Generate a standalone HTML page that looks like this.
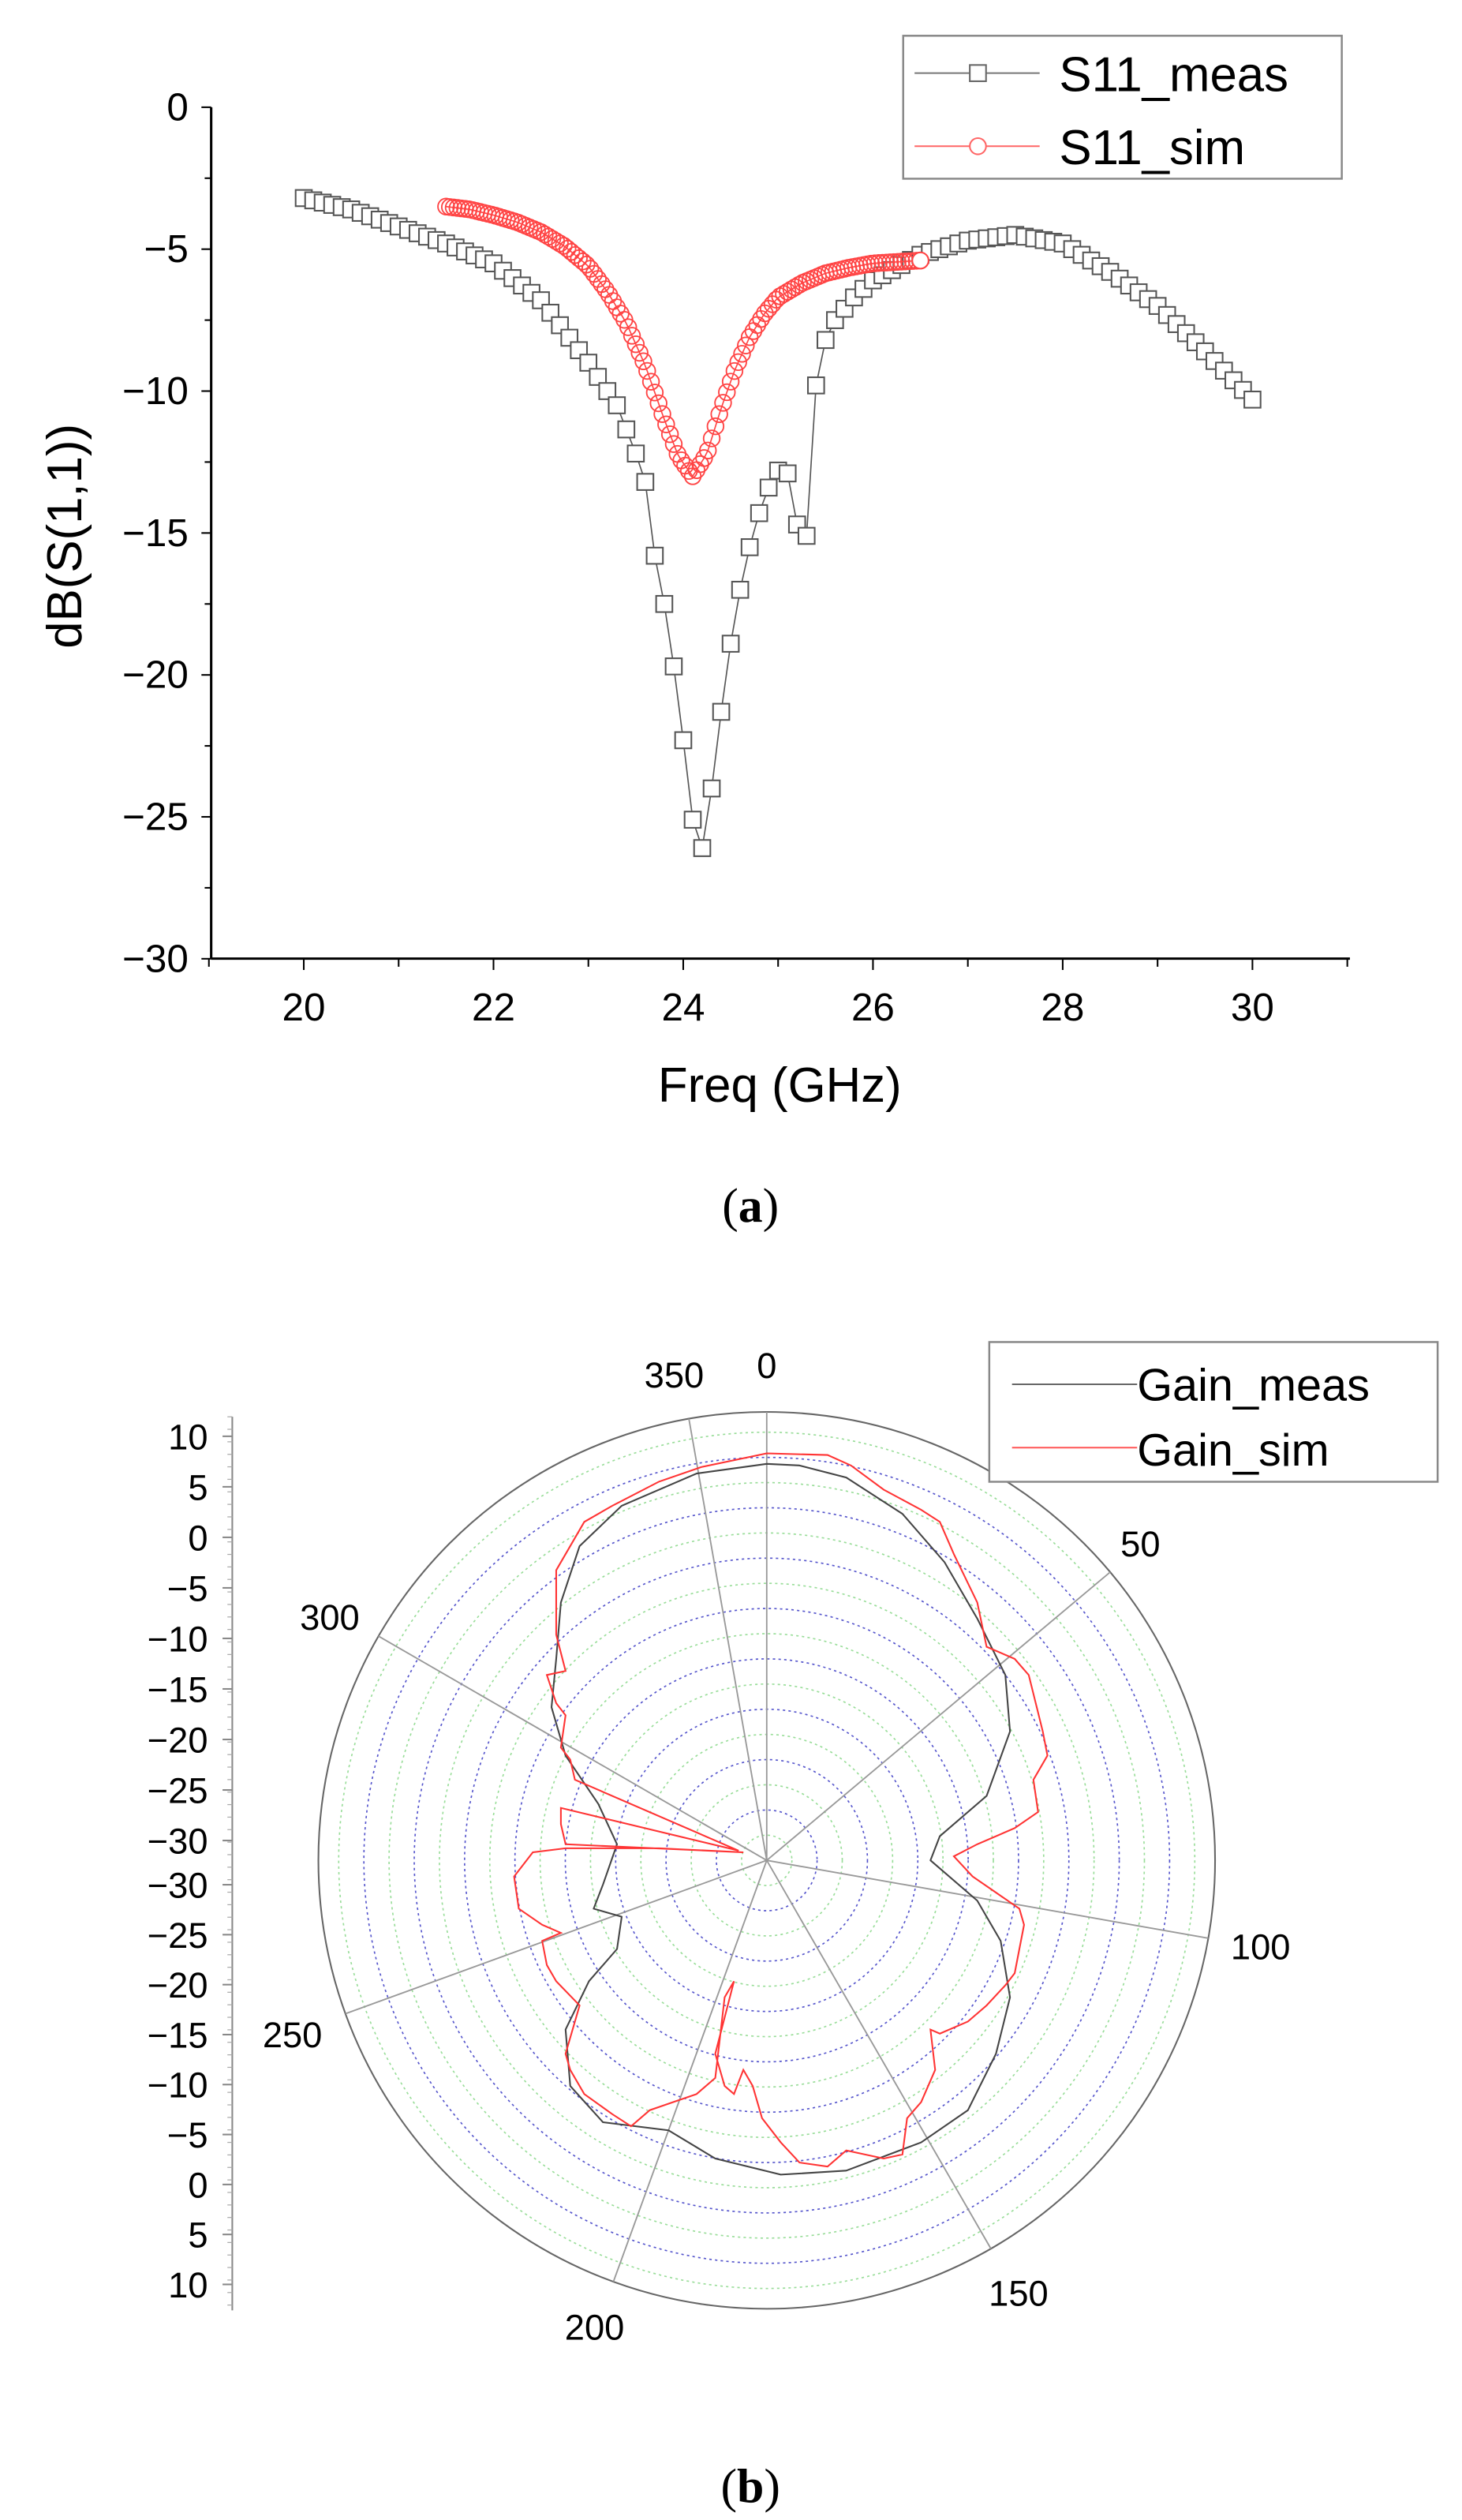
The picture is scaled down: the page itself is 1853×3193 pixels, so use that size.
<!DOCTYPE html>
<html><head><meta charset="utf-8"><style>
html,body{margin:0;padding:0;background:#fff}
svg{display:block}
text{font-family:"Liberation Sans",sans-serif;fill:#000}
</style></head><body>
<svg id="s" width="1853" height="3193" viewBox="0 0 900 1551" preserveAspectRatio="none" xmlns="http://www.w3.org/2000/svg">
<g id="a"></g>
<rect x="556" y="22" width="270" height="88" fill="#fff" stroke="#888" stroke-width="1.2"/>
<line x1="563" y1="45" x2="640" y2="45" stroke="#777" stroke-width="1"/>
<rect x="597" y="40" width="10" height="10" fill="#fff" stroke="#666" stroke-width="1"/>
<text x="652" y="56" font-size="30">S11_meas</text>
<line x1="563" y1="90" x2="640" y2="90" stroke="#f66" stroke-width="1"/>
<circle cx="602" cy="90" r="5" fill="#fff" stroke="#f66" stroke-width="1"/>
<text x="652" y="101" font-size="30">S11_sim</text>
<text x="480" y="678" font-size="30" text-anchor="middle">Freq (GHz)</text>
<text transform="translate(50,330) rotate(-90)" font-size="30" text-anchor="middle">dB(S(1,1))</text>
<text x="462" y="752" font-size="30" text-anchor="middle" style="font-family:'Liberation Serif',serif">(<tspan font-weight="bold">a</tspan>)</text>
<text x="462" y="1540" font-size="30" text-anchor="middle" style="font-family:'Liberation Serif',serif">(<tspan font-weight="bold">b</tspan>)</text>
<g id="b"></g>
<rect x="609" y="826" width="276" height="86" fill="#fff" stroke="#888" stroke-width="1.2"/>
<line x1="623" y1="852" x2="700" y2="852" stroke="#666" stroke-width="1"/>
<text x="700" y="862" font-size="28">Gain_meas</text>
<line x1="623" y1="891" x2="700" y2="891" stroke="#f55" stroke-width="1"/>
<text x="700" y="902" font-size="28">Gain_sim</text>
</svg>
<script>
var NS="http://www.w3.org/2000/svg";
function el(p,t,a,txt){var e=document.createElementNS(NS,t);for(var k in a)e.setAttribute(k,a[k]);if(txt!=null)e.textContent=txt;p.appendChild(e);return e;}
var A=document.getElementById('a');
function X(f){return 187+(f-20)*58.4;}
function Y(d){return 66-d*17.47;}
el(A,'line',{x1:130,y1:66,x2:130,y2:590,stroke:'#000','stroke-width':1.5});
el(A,'line',{x1:130,y1:590,x2:831,y2:590,stroke:'#000','stroke-width':1.5});
for(var d=0;d>=-30;d-=2.5){var maj=(d%5==0);el(A,'line',{x1:130,y1:Y(d),x2:maj?124:126,y2:Y(d),stroke:'#000','stroke-width':1});
 if(maj)el(A,'text',{x:116,y:Y(d)+8,'font-size':24,'text-anchor':'end'},d==0?'0':'\u2212'+(-d));}
for(var f=19;f<=31;f++){var maj=(f%2==0);el(A,'line',{x1:X(f),y1:590,x2:X(f),y2:maj?597:595,stroke:'#000','stroke-width':1});
 if(maj&&f>=20&&f<=30)el(A,'text',{x:X(f),y:628,'font-size':24,'text-anchor':'middle'},''+f);}
function interp(pts,x){for(var i=0;i<pts.length-1;i++){if(x<=pts[i+1][0]){var t=(x-pts[i][0])/(pts[i+1][0]-pts[i][0]);return pts[i][1]+t*(pts[i+1][1]-pts[i][1]);}}return pts[pts.length-1][1];}
var M=[[20,-3.2],[20.5,-3.6],[21,-4.2],[21.5,-4.8],[22,-5.5],[22.5,-6.8],[23,-9],[23.3,-10.5],[23.5,-12.2],[23.6,-13.2],[23.7,-15.8],[23.8,-17.5],[23.9,-19.7],[24,-22.3],[24.1,-25.1],[24.2,-26.1],[24.3,-24],[24.4,-21.3],[24.5,-18.9],[24.6,-17],[24.7,-15.5],[24.8,-14.3],[24.9,-13.4],[25,-12.8],[25.1,-12.9],[25.2,-14.7],[25.3,-15.1],[25.4,-9.8],[25.5,-8.2],[25.6,-7.5],[25.8,-6.7],[26,-6.1],[26.5,-5.2],[27,-4.7],[27.5,-4.5],[28,-4.8],[28.5,-5.8],[29,-7],[29.5,-8.6],[30,-10.3]];
var mp=[];for(var i=0;i<=100;i++){var f=20+i*0.1;mp.push([X(f),Y(interp(M,f))]);}
el(A,'polyline',{points:mp.map(p=>p.join(',')).join(' '),fill:'none',stroke:'#555','stroke-width':0.8});
mp.forEach(p=>el(A,'rect',{x:p[0]-5,y:p[1]-5,width:10,height:10,fill:'#fff',stroke:'#555','stroke-width':1}));
var S=[[21.5,-3.5],[21.75,-3.6],[22,-3.8],[22.25,-4.05],[22.5,-4.4],[22.75,-4.9],[23,-5.6],[23.2,-6.5],[23.4,-7.6],[23.6,-9.1],[23.8,-11],[23.95,-12.3],[24.1,-13],[24.25,-12.2],[24.4,-10.6],[24.55,-9.2],[24.7,-8.1],[24.85,-7.3],[25,-6.7],[25.25,-6.2],[25.5,-5.85],[25.75,-5.65],[26,-5.5],[26.25,-5.45],[26.5,-5.4]];
var sp=[];for(var i=0;i<=125;i++){var f=21.5+i*0.04;sp.push([X(f),Y(interp(S,f))]);}
el(A,'polyline',{points:sp.map(p=>p.join(',')).join(' '),fill:'none',stroke:'#f44','stroke-width':0.8});
sp.forEach(p=>el(A,'circle',{cx:p[0],cy:p[1],r:5,fill:'none',stroke:'#f44','stroke-width':0.9}));
el(A,'circle',{cx:sp[sp.length-1][0],cy:sp[sp.length-1][1],r:5,fill:'#fff',stroke:'#f44','stroke-width':1});
var B=document.getElementById('b');var cx=472,cy=1145,R=276;
for(var k=1;k<=17;k++){var r=k*15.5;if(r>=R)break;el(B,'circle',{cx:cx,cy:cy,r:r,fill:'none',stroke:k%2?'#9d9':'#55c','stroke-width':0.8,'stroke-dasharray':'1.5,2'});}
el(B,'circle',{cx:cx,cy:cy,r:R,fill:'none',stroke:'#666','stroke-width':1});
[0,50,100,150,200,250,300,350].forEach(a=>{var t=a*Math.PI/180;el(B,'line',{x1:cx,y1:cy,x2:cx+R*Math.sin(t),y2:cy-R*Math.cos(t),stroke:'#999','stroke-width':0.9});});
[['0',472,848],['350',415,854],['50',702,958],['300',203,1003],['100',776,1206],['250',180,1260],['150',627,1419],['200',366,1440]].forEach(l=>el(B,'text',{x:l[1],y:l[2],'font-size':22,'text-anchor':'middle'},l[0]));
el(B,'line',{x1:143,y1:872,x2:143,y2:1422,stroke:'#888','stroke-width':1});
var lab=[10,5,0,-5,-10,-15,-20,-25,-30];
lab.forEach((v,i)=>{var y=884+i*31.1;el(B,'line',{x1:137,y1:y,x2:143,y2:y,stroke:'#888'});el(B,'text',{x:128,y:y+8,'font-size':22,'text-anchor':'end'},v<0?'\u2212'+(-v):''+v);});
lab.slice().reverse().forEach((v,i)=>{var y=1160+i*30.75;el(B,'line',{x1:137,y1:y,x2:143,y2:y,stroke:'#888'});el(B,'text',{x:128,y:y+8,'font-size':22,'text-anchor':'end'},v<0?'\u2212'+(-v):''+v);});
for(var y=872;y<1420;y+=7.7)el(B,'line',{x1:140,y1:y,x2:143,y2:y,stroke:'#aaa','stroke-width':0.6});
function conv(arr){return arr.map(p=>[cx+(p[0]-815)*0.576,cy+(p[1]-720)*0.496].join(',')).join(' ');}
var gm=[[815,228],[740,240],[660,280],[615,330],[595,400],[590,470],[585,530],[600,590],[635,650],[655,700],[640,750],[630,780],[660,790],[655,830],[625,870],[600,930],[605,1000],[640,1045],[710,1055],[760,1090],[830,1110],[900,1105],[980,1070],[1030,1030],[1060,960],[1075,890],[1065,820],[1040,770],[990,720],[1000,690],[1050,640],[1075,560],[1070,490],[1040,420],[1005,350],[960,290],[900,245],[850,230],[815,228]];
var gs=[[815,215],[880,217],[905,230],[940,260],[980,285],[1000,300],[1015,340],[1040,400],[1050,455],[1080,470],[1095,490],[1110,560],[1115,590],[1100,620],[1105,660],[1080,680],[1040,700],[1015,715],[1035,740],[1060,760],[1085,780],[1090,800],[1085,830],[1080,860],[1070,875],[1050,900],[1030,920],[1000,935],[990,930],[995,980],[980,1020],[965,1040],[960,1085],[940,1090],[900,1080],[880,1100],[850,1095],[830,1070],[810,1040],[800,1000],[790,980],[780,1010],[770,1000],[760,960],[780,870],[770,890],[760,990],[740,1010],[715,1020],[690,1030],[670,1050],[650,1035],[620,1010],[605,980],[600,960],[615,900],[590,870],[580,850],[575,820],[595,810],[575,800],[550,780],[545,740],[565,710],[600,705],[700,705],[790,710],[600,700],[595,675],[595,655],[785,708],[610,620],[605,595],[595,580],[600,540],[590,525],[580,490],[600,485],[590,440],[590,360],[620,300],[650,280],[700,250],[745,232],[815,215]];
el(B,'polyline',{points:conv(gm),fill:'none',stroke:'#444','stroke-width':1,'stroke-linejoin':'round'});
el(B,'polyline',{points:conv(gs),fill:'none',stroke:'#f33','stroke-width':1});
</script>
</body></html>
